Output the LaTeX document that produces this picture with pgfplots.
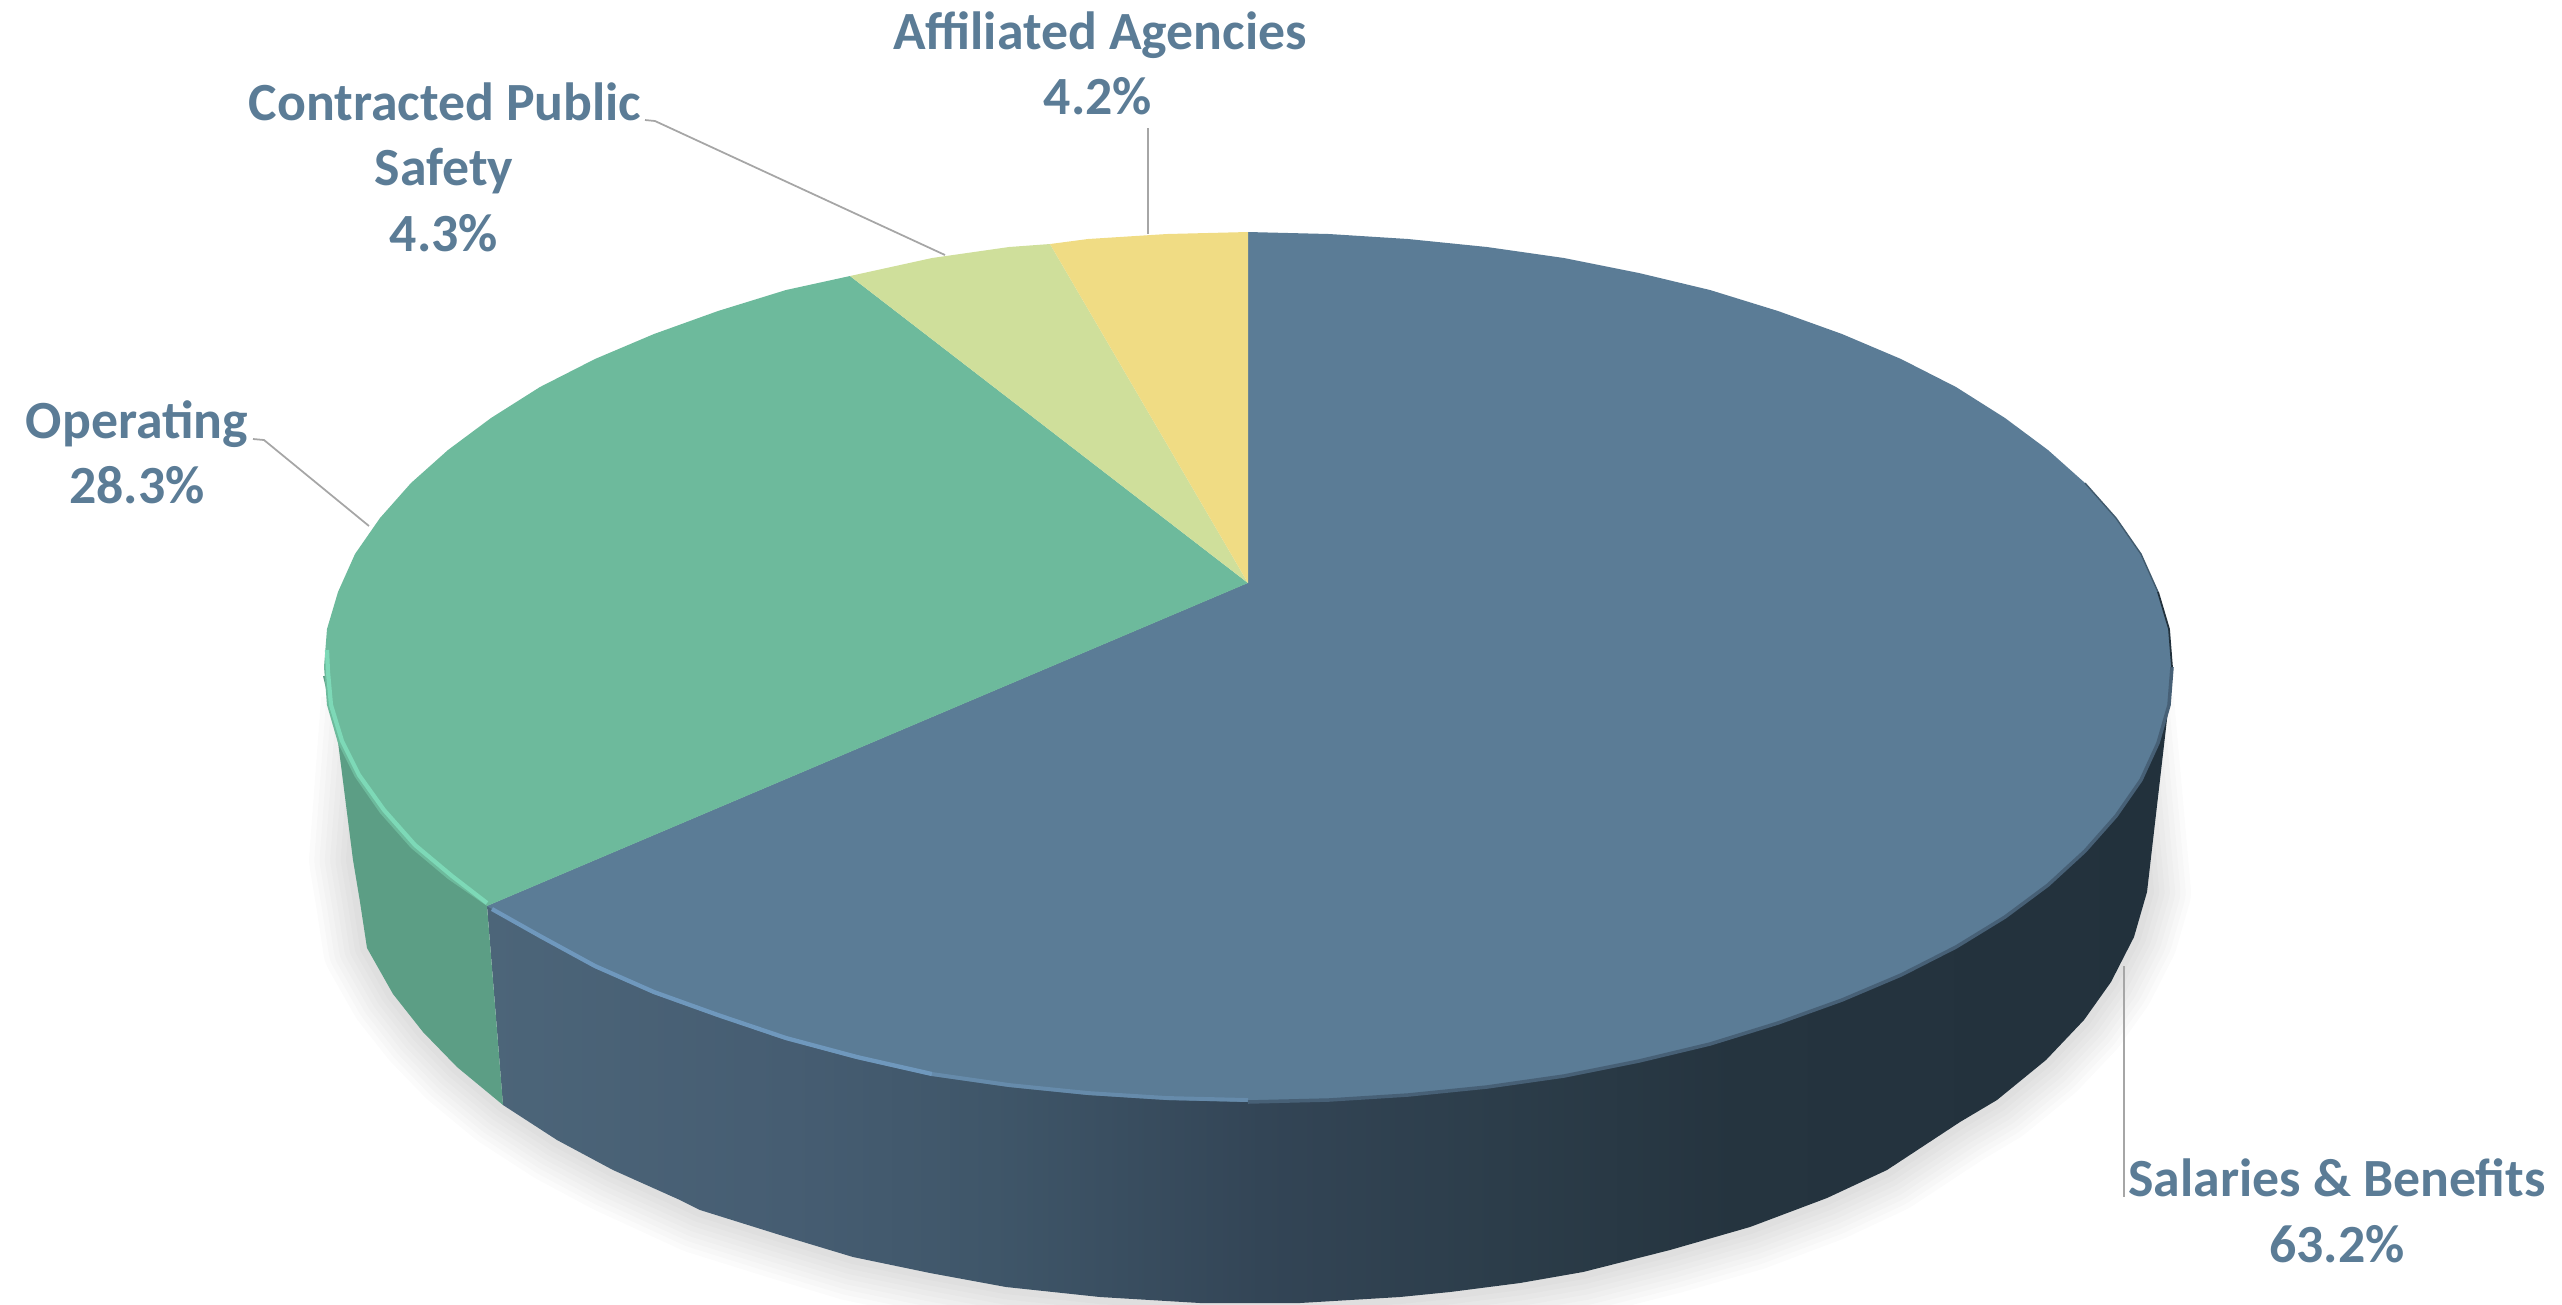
\documentclass[border=0pt]{standalone}
\usepackage{fontspec}
\setmainfont{Carlito}
\usepackage{pgfplots}
\usepackage{pgfplotstable}
\pgfplotsset{compat=1.18}

\definecolor{topblue}{HTML}{5B7C96}
\definecolor{topgreen}{HTML}{6DBA9C}
\definecolor{toplime}{HTML}{CFDF9B}
\definecolor{topyellow}{HTML}{F0DC84}
\definecolor{sidegreen}{HTML}{5C9E85}
\definecolor{rimgreen}{HTML}{7DD9B7}
\definecolor{rimblue}{HTML}{6F98BD}
\definecolor{leader}{HTML}{A6A6A6}
\definecolor{sa}{HTML}{4C6579}
\definecolor{sb}{HTML}{465D72}
\definecolor{sc}{HTML}{3F5669}
\definecolor{sd}{HTML}{334556}
\definecolor{se}{HTML}{2C3D4A}
\definecolor{sf}{HTML}{25343F}
\definecolor{sg}{HTML}{22313C}

% path bbox maps onto 25bp..75bp of the shading
\pgfdeclarehorizontalshading{blueside}{100bp}{
  color(0bp)=(sa); color(25bp)=(sa); color(34bp)=(sb); color(40bp)=(sc);
  color(48bp)=(sd); color(55bp)=(se); color(62bp)=(sf); color(75bp)=(sg); color(100bp)=(sg)}

% lower edge of the pie side and shadow, in image pixels
\pgfplotstableread{
x y
2130 700
2147 892
2134 937
2111 982
2084 1020
2046 1060
1997 1100
1960 1122
1887 1170
1827 1198
1750 1227
1670 1250
1583 1272
1520 1283
1450 1292
1400 1297
1300 1303
1200 1303
1100 1297
1006 1287
930 1273
853 1257
780 1235
700 1210
613 1170
557 1140
503 1105
457 1067
423 1032
393 994
367 948
360 902
353 860
365 700
}\shadowedge

\newcommand{\lab}[3]{\node[anchor=base,text=topblue,font=\fontsize{15.3pt}{15.3pt}\selectfont\bfseries,inner sep=0pt] at (axis cs:#1,#2) {#3};}

\begin{document}
\begin{tikzpicture}
\begin{axis}[
    scale only axis,
    width=25.62cm,
    height=13.04cm,
    xmin=0, xmax=2562,
    ymin=0, ymax=1304,
    y dir=reverse,
    hide axis,
]

% soft shadow under the pie
\pgfplotsinvokeforeach{4,7,10,13,16,19,22,25}{
  \addplot[draw=black,draw opacity=0.015,line width=#1pt,line join=round,no marks,forget plot] table[x=x,y=y] {\shadowedge};
}

% side walls
\addplot[draw=none,shade,shading=blueside,no marks,forget plot] coordinates {
  (2172,676) (2147,892) (2134,937) (2111,982) (2084,1020) (2046,1060) (1997,1100)
  (1960,1122) (1887,1170) (1827,1198) (1750,1227) (1670,1250) (1583,1272) (1520,1283)
  (1450,1292) (1400,1297) (1300,1303) (1200,1303) (1100,1297) (1006,1287) (930,1273)
  (853,1257) (780,1235) (700,1210) (680,1200) (613,1170) (557,1140) (503,1105) (487,906)
  (1248,583)
} -- cycle;
\addplot[draw=none,fill=sidegreen,no marks,forget plot] coordinates {
  (323,676) (337,734) (353,860) (360,902) (367,948) (393,994) (423,1032) (457,1067)
  (503,1105) (487,906) (600,700)
} -- cycle;

% top face
\addplot[draw=none,fill=topblue,no marks,forget plot] coordinates {
  (1248,583) (1248,232) (1329,234) (1408,239) (1487,247) (1564,258) (1639,273) (1710,290)
  (1778,311) (1842,334) (1901,359) (1956,387) (2005,418) (2048,450) (2085,483) (2116,518)
  (2141,554) (2158,592) (2169,629) (2172,667) (2169,705) (2158,743) (2141,780) (2116,816)
  (2085,851) (2048,885) (2005,917) (1956,947) (1901,975) (1842,1000) (1778,1023) (1710,1044)
  (1639,1061) (1564,1076) (1487,1087) (1408,1095) (1329,1100) (1248,1102) (1167,1100)
  (1088,1095) (1009,1087) (932,1076) (857,1059) (786,1040) (718,1017) (654,994) (595,968)
  (540,938) (487,906)
} -- cycle;
\addplot[draw=none,fill=topgreen,no marks,forget plot] coordinates {
  (1248,583) (487,906) (448,879) (411,848) (380,813) (355,777) (338,743) (327,705) (324,667)
  (327,629) (338,592) (355,554) (380,518) (411,483) (448,450) (491,418) (540,387) (595,359)
  (654,334) (718,311) (786,290) (850,276)
} -- cycle;
\addplot[draw=none,fill=toplime,no marks,forget plot] coordinates {
  (1248,583) (850,276) (932,258) (1009,247) (1050,244)
} -- cycle;
\addplot[draw=none,fill=topyellow,no marks,forget plot] coordinates {
  (1248,583) (1050,244) (1088,239) (1167,234) (1248,232)
} -- cycle;

% bevel highlights and dark edge
\addplot[draw=rimgreen,line width=1.2pt,no marks,forget plot] coordinates {
  (327,650) (328,672) (331,705) (342,741) (359,775) (384,810) (415,845) (452,876) (487,903)
};
\addplot[draw=rimblue,line width=1.2pt,no marks,forget plot] coordinates {
  (492,909) (540,936) (595,966) (654,992) (718,1015) (786,1038) (857,1057) (932,1074)
};
\addplot[draw=rimblue!55!topblue,line width=1.1pt,no marks,forget plot] coordinates {
  (932,1074) (1009,1085) (1088,1093) (1167,1098) (1248,1100)
};
\addplot[draw=topblue!50!sd,line width=1pt,no marks,forget plot] coordinates {
  (1248,1102) (1329,1100) (1408,1095) (1487,1087) (1564,1076) (1639,1061) (1710,1044)
  (1778,1023) (1842,1000) (1901,975) (1956,947) (2005,917) (2048,885) (2085,851) (2116,816)
  (2141,780) (2158,743) (2169,705) (2172,667)
};
\addplot[draw=topblue!55!sg,line width=0.4pt,no marks,forget plot] coordinates {
  (2085,483) (2116,518) (2141,554) (2158,592)
};
\addplot[draw=sg,line width=0.5pt,no marks,forget plot] coordinates {
  (2158,592) (2169,629) (2172,667)
};

% leader lines
\addplot[draw=leader,line width=0.5pt,no marks,forget plot] coordinates {(1148,128) (1148,234)};
\addplot[draw=leader,line width=0.5pt,no marks,forget plot] coordinates {(645,120) (655,121) (945,255)};
\addplot[draw=leader,line width=0.5pt,no marks,forget plot] coordinates {(253,439) (264,440) (369,526)};
\addplot[draw=leader,line width=0.5pt,no marks,forget plot] coordinates {(2124,966) (2124,1197)};

% labels
\lab{1100}{49}{Affiliated Agencies}
\lab{1098}{114}{4.2\%}
\lab{445}{120}{Contracted Public}
\lab{444}{185}{Safety}
\lab{444}{251}{4.3\%}
\lab{137}{438}{Operating}
\lab{137}{503}{28.3\%}
\lab{2337}{1196}{Salaries \& Benefits}
\lab{2337}{1262}{63.2\%}

\end{axis}
\pgfresetboundingbox
\useasboundingbox (current axis.south west) rectangle (current axis.north east);
\end{tikzpicture}
\end{document}
